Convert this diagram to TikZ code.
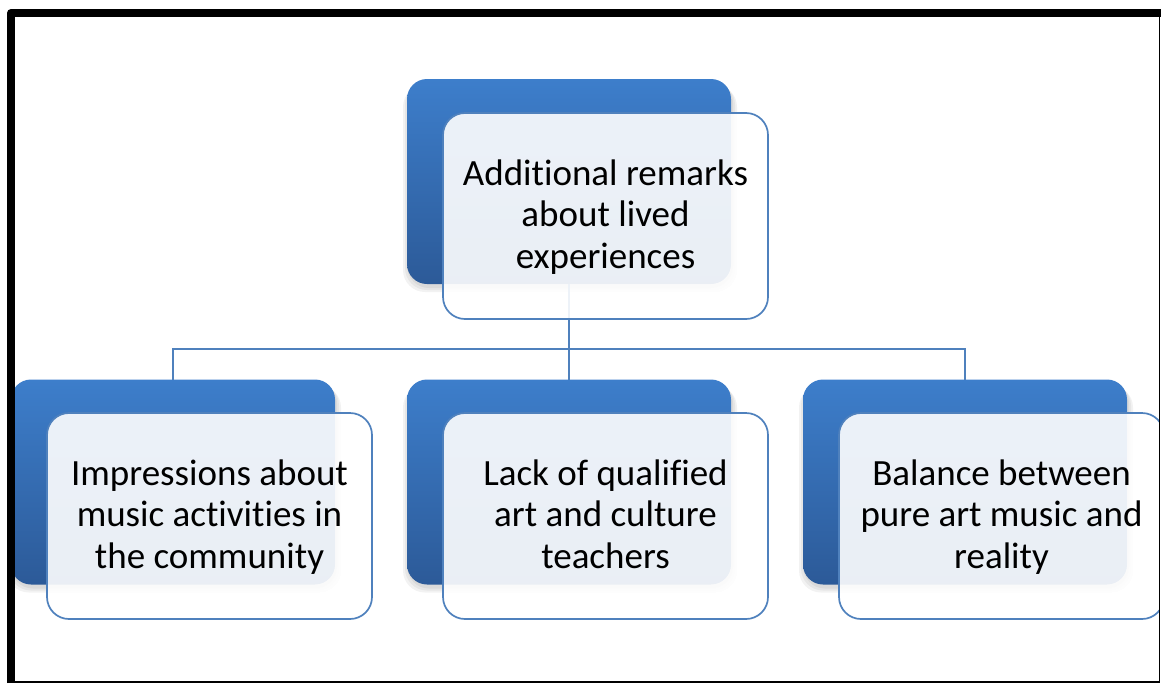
\documentclass[tikz,border=0pt]{standalone}
\usepackage{fontspec}
\setmainfont{Carlito}[Ligatures=NoCommon]
\newcommand{\nl}{\kern0pt{}}
\definecolor{bluetop}{RGB}{61,126,203}
\definecolor{bluebot}{RGB}{44,90,152}
\definecolor{linblue}{RGB}{79,129,189}
\begin{document}
\begin{tikzpicture}[x=1pt,y=-1pt,
  back/.style={rounded corners=20pt, minimum width=324pt, minimum height=205pt,
    inner sep=0pt, outer sep=0pt, top color=bluetop, bottom color=bluebot, draw=none},
  shade/.style={rounded corners=22pt, fill=black, fill opacity=0.05, draw=none,
    inner sep=0pt, outer sep=0pt},
  front/.style={rounded corners=22pt, minimum width=325pt, minimum height=206pt,
    inner sep=0pt, outer sep=0pt, draw=linblue, line width=1.7pt,
    fill=white, fill opacity=0.9},
  lbl/.style={align=center, inner sep=0pt, font=\fontsize{37}{41.5}\selectfont, text=black},
  conn/.style={draw=linblue, line width=1.8pt}]
\useasboundingbox (0,0) rectangle (1161,683);
\begin{scope}
\clip (15,17) rectangle (1159,682);
% soft shadows
\foreach \cx/\cy in {173/482,569/482,965/482,569/181.5}{
  \foreach \g in {1,3,5}{
    \fill[shade] (\cx-162-\g+1,\cy-102.5+\g+1) rectangle (\cx+162+\g+1,\cy+102.5+\g+3);
  }
}
% back boxes
\node[back] (tb) at (569,181.5) {};
\node[back] (lb) at (173,482) {};
\node[back] (mb) at (569,482) {};
\node[back] (rb) at (965,482) {};
% connectors
\coordinate (j) at (569,349);
\draw[conn] (tb.south) -- (mb.north);
\draw[conn] (lb.north) -- (lb.north |- j) -- (rb.north |- j) -- (rb.north);
% front boxes
\node[front] (tf) at (605.5,216) {};
\node[front] (lf) at (209.5,516) {};
\node[front] (mf) at (605.5,516) {};
\node[front] (rf) at (1001.5,516) {};
\end{scope}
% labels
\node[lbl] (tt) at ([yshift=-2.5pt]tf.center) {\strut Addit\nl ional remarks\\about lived\\experiences\strut};
\node[lbl] (lt) at ([yshift=-2.5pt]lf.center) {\strut Impressions about\\music act\nl ivit\nl ies in\\the community\strut};
\node[lbl] (mt) at ([yshift=-2.5pt]mf.center) {\strut Lack of qualified\\art and culture\\teachers\strut};
\node[lbl] (rt) at ([yshift=-2.5pt]rf.center) {\strut Balance between\\pure art music and\\reality\strut};
% frame
\draw[line width=1.2pt] (1159.4,13) -- (1159.4,682) -- (11,682);
\draw[line width=8pt, line join=round] (11,683) -- (11,13) -- (1161,13);
\end{tikzpicture}
\end{document}
